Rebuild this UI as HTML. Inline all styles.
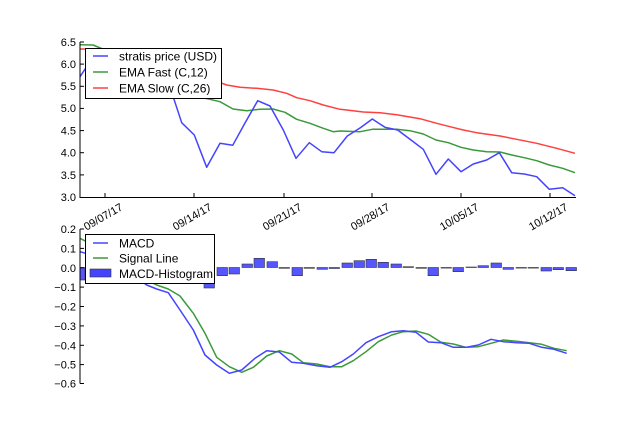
<!DOCTYPE html>
<html><head><meta charset="utf-8"><style>
html,body{margin:0;padding:0;background:#fff}
text{font-family:"Liberation Sans","DejaVu Sans",sans-serif;fill:#000}
</style></head><body>
<svg width="640" height="427" xmlns="http://www.w3.org/2000/svg">
<rect width="640" height="427" fill="#fff"/>
<g stroke-width="1.5" fill="none" stroke-linejoin="round">
<polyline stroke="#ff4040" points="80,49 93,49 110,55 130,61 150,67 170,72 185,75 200,77 213,80 226.7,85 240,87.3 256.7,88.3 273,90 286.7,93.3 296.7,97.7 310,100.7 323.3,105 340,109.3 346.7,110 363.3,112 380,112.7 396.7,114.7 420,118.7 436.7,123.3 450,126.7 463.3,130 476.7,132.7 500,136 516.7,139.3 536.7,143.3 556.7,148.3 575,153.3"/>
<polyline stroke="#3a9a3a" points="80,44.7 93,45 110,52 130,62 150,74 170,86 185,93 200,97 220,101.7 233,109 246.7,110.7 260,109.3 273,109 285,112.3 296.7,119.3 310,123.3 323.3,128.3 333.3,131.7 340,131 360,131.7 372.3,129.3 396.7,129.3 410,130.7 423.3,134 436,140 448.3,142.7 461,147.3 473.3,150 486.7,151.7 500,152 511.7,155 524.3,157.7 536.7,160.7 549.3,165 562.7,168.3 575,172.7"/>
<polyline stroke="#4444ff" points="80,76.7 92.5,58 105,53 117,55 130,60 142,66 155,70 167,78 181.7,122.7 194.3,135 206.7,167.3 220,143.3 232.7,145.3 245,123 257.7,100.7 270,106 283.3,130 296,158.3 309.3,142.7 321.7,151.7 334,152.7 347.3,136 360,128 372.3,119 385,127.3 397.7,130 411,140 423.3,149.3 436,174.3 448.3,159 461,171.7 473.3,164 486.7,160 499.3,152.7 511.7,172.7 524.3,174 536.7,176.7 549.3,189.3 562.7,187.7 575,195.7"/>
</g>
<g stroke="#000" stroke-width="1">
<line x1="80" y1="42" x2="80" y2="197.5"/>
<line x1="79.5" y1="197.5" x2="576" y2="197.5"/>
<line x1="105" y1="197" x2="105" y2="193"/><line x1="194" y1="197" x2="194" y2="193"/><line x1="284" y1="197" x2="284" y2="193"/><line x1="372" y1="197" x2="372" y2="193"/><line x1="461" y1="197" x2="461" y2="193"/><line x1="550" y1="197" x2="550" y2="193"/>
<line x1="80" y1="42" x2="84" y2="42"/><line x1="80" y1="64.1" x2="84" y2="64.1"/><line x1="80" y1="86.3" x2="84" y2="86.3"/><line x1="80" y1="108.4" x2="84" y2="108.4"/><line x1="80" y1="130.6" x2="84" y2="130.6"/><line x1="80" y1="152.7" x2="84" y2="152.7"/><line x1="80" y1="174.9" x2="84" y2="174.9"/>
</g>
<g font-size="11" text-anchor="end">
<text x="76" y="46">6.5</text><text x="76" y="68">6.0</text><text x="76" y="90">5.5</text><text x="76" y="112">5.0</text><text x="76" y="134.5">4.5</text><text x="76" y="156.5">4.0</text><text x="76" y="179">3.5</text><text x="76" y="201">3.0</text>
</g>
<g font-size="11" text-anchor="middle">
<text transform="translate(105,220) rotate(-30)">09/07/17</text>
<text transform="translate(194,220) rotate(-30)">09/14/17</text>
<text transform="translate(284,220) rotate(-30)">09/21/17</text>
<text transform="translate(372,220) rotate(-30)">09/28/17</text>
<text transform="translate(461,220) rotate(-30)">10/05/17</text>
<text transform="translate(550,220) rotate(-30)">10/12/17</text>
</g>
<rect x="85.5" y="48.5" width="136" height="50" fill="#fff" stroke="#000" stroke-width="1"/>
<line x1="93" y1="56" x2="108" y2="56" stroke="#4444ff" stroke-width="1.5"/>
<line x1="93" y1="72" x2="108" y2="72" stroke="#3a9a3a" stroke-width="1.5"/>
<line x1="93" y1="88" x2="108" y2="88" stroke="#ff4040" stroke-width="1.5"/>
<g font-size="12"><text x="119" y="60.5">stratis price (USD)</text><text x="119" y="76.5">EMA Fast (C,12)</text><text x="119" y="92.5">EMA Slow (C,26)</text></g>

<g fill="#4444ff" fill-opacity="0.9" stroke="#333" stroke-width="0.6">
<rect x="80" y="267.5" width="5" height="12.5"/>
<rect x="204" y="267.5" width="10.5" height="20.5"/>
<rect x="217" y="267.5" width="10.5" height="8.2"/>
<rect x="229" y="267.5" width="10.5" height="6.5"/>
<rect x="242" y="264" width="10.5" height="3.5"/>
<rect x="254" y="258.3" width="10.5" height="9.2"/>
<rect x="267" y="261.7" width="10.5" height="5.8"/>
<rect x="279" y="267.5" width="10.5" height="0.8"/>
<rect x="292" y="267.5" width="10.5" height="8.2"/>
<rect x="304" y="267.5" width="10.5" height="0.8"/>
<rect x="317" y="267.5" width="10.5" height="1.8"/>
<rect x="329" y="267.5" width="10.5" height="1"/>
<rect x="342" y="263" width="10.5" height="4.5"/>
<rect x="354" y="260.7" width="10.5" height="6.8"/>
<rect x="366" y="259.3" width="10.5" height="8.2"/>
<rect x="378" y="262.3" width="10.5" height="5.2"/>
<rect x="391" y="264" width="10.5" height="3.5"/>
<rect x="403" y="266.7" width="10.5" height="0.8"/>
<rect x="416" y="267.5" width="10.5" height="0.8"/>
<rect x="428" y="267.5" width="10.5" height="8.2"/>
<rect x="441" y="267.5" width="10.5" height="0.6"/>
<rect x="453" y="267.5" width="10.5" height="4.2"/>
<rect x="466" y="267" width="10.5" height="0.5"/>
<rect x="478" y="265.7" width="10.5" height="1.8"/>
<rect x="491" y="263" width="10.5" height="4.5"/>
<rect x="503" y="267.5" width="10.5" height="1.8"/>
<rect x="516" y="267.5" width="10.5" height="0.6"/>
<rect x="528" y="267.5" width="10.5" height="0.6"/>
<rect x="541" y="267.5" width="10.5" height="3.5"/>
<rect x="553" y="267.5" width="10.5" height="2.2"/>
<rect x="566" y="267.5" width="10.5" height="3.2"/>
</g>
<g stroke-width="1.5" fill="none" stroke-linejoin="round">
<polyline stroke="#3a9a3a" points="80,238.3 95,246 110,256 125,266 140,277 156.7,285 168.3,289 180,296 193.3,313.3 205,333.3 216.7,357.3 229.3,366.7 241.7,372.3 253.3,367.3 266.7,356 279.3,350.7 291.7,354 303.3,362.7 316.7,364 330,366.7 341.7,366.7 353.3,360.7 366,351.7 378.3,341.7 391.7,335 403.3,331.7 416,331 428.3,334.3 441,342.3 453.3,344 466,347.3 478.3,346.7 491,343.3 503.3,340 516.7,341.3 529.3,342.7 541.7,344.3 554,348.3 566.7,350.7"/>
<polyline stroke="#4444ff" points="80,251.7 95,256 110,264 125,272 140,280 146.7,285 156.7,289 168.3,292.7 180,310 193.3,330 205,355 216.7,365 229.3,373.3 241.7,370 255,358.3 266.7,350.7 279.3,352 291.7,362.3 303.3,363.3 316.7,365.7 330,367.3 341.7,361.7 353.3,354 366,342.7 378.3,336.7 391.7,331.7 403.3,330.7 416,332.3 428.3,342 441,342.7 453.3,347.3 466,347.3 478.3,345 491,339.3 503.3,341.7 516.7,342.7 529.3,343.3 541.7,347.3 554,349.3 566.7,353.3"/>
</g>
<g stroke="#000" stroke-width="1">
<line x1="80" y1="229" x2="80" y2="383.5"/>
<line x1="80" y1="229" x2="84" y2="229"/><line x1="80" y1="248.4" x2="84" y2="248.4"/><line x1="80" y1="267.8" x2="84" y2="267.8"/><line x1="80" y1="287.1" x2="84" y2="287.1"/><line x1="80" y1="306.5" x2="84" y2="306.5"/><line x1="80" y1="325.9" x2="84" y2="325.9"/><line x1="80" y1="345.3" x2="84" y2="345.3"/><line x1="80" y1="364.6" x2="84" y2="364.6"/><line x1="80" y1="383.5" x2="84" y2="383.5"/>
</g>
<g font-size="11" text-anchor="end">
<text x="76" y="233">0.2</text><text x="76" y="252.4">0.1</text><text x="76" y="271.8">0.0</text><text x="76" y="291.1">−0.1</text><text x="76" y="310.5">−0.2</text><text x="76" y="329.9">−0.3</text><text x="76" y="349.3">−0.4</text><text x="76" y="368.6">−0.5</text><text x="76" y="387.5">−0.6</text>
</g>
<rect x="85.5" y="234.5" width="129" height="49" fill="#fff" stroke="#000" stroke-width="1"/>
<line x1="93" y1="243" x2="108" y2="243" stroke="#4444ff" stroke-width="1.5"/>
<line x1="93" y1="258" x2="108" y2="258" stroke="#3a9a3a" stroke-width="1.5"/>
<rect x="90" y="269" width="21" height="8" fill="#4444ff" stroke="#333" stroke-width="0.6"/>
<g font-size="12"><text x="119" y="247.5">MACD</text><text x="119" y="262.5">Signal Line</text><text x="119" y="278">MACD-Histogram</text></g>
</svg>
</body></html>
